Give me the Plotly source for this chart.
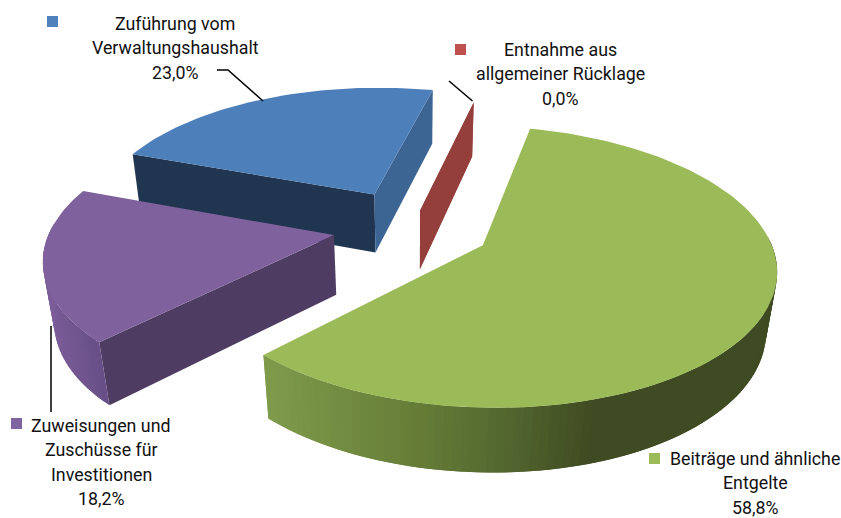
import math
import plotly.graph_objects as go

# Data
categories = ["Beiträge und ähnliche Entgelte", "Zuweisungen und Zuschüsse für Investitionen",
              "Zuführung vom Verwaltungshaushalt", "Entnahme aus allgemeiner Rücklage"]
values = [58.8, 18.2, 23.0, 0.0]
labels = [["Beiträge und ähnliche", "Entgelte", "58,8%"],
          ["Zuweisungen und", "Zuschüsse für", "Investitionen", "18,2%"],
          ["Zuführung vom", "Verwaltungshaushalt", "23,0%"],
          ["Entnahme aus", "allgemeiner Rücklage", "0,0%"]]
explode = [0.28, 0.28, 0.29, 0.13]
key_colors = ["#9BBB59", "#8064A2", "#4F81BD", "#C0504D"]
top_colors = ["#9BBB59", "#7F619D", "#4D7FBA", "#953F3D"]
first_wall = [None, "#4E3C62", "#1F3550", "#953F3D"]   # wall along the start radius
last_wall = [None, None, "#3D6594", "#953F3D"]  # wall along the end radius
outer_stops = [
    [(263, "#7F9C4C"), (420, "#667D37"), (500, "#556A30"), (600, "#3F4B22"), (800, "#3F4B22")],
    [(40, "#7D5F9B"), (105, "#664D85")],
    [(0, "#1F3550"), (800, "#1F3550")],
    [(0, "#953F3D"), (800, "#953F3D")],
]
label_first_line = [(755, 458), (101, 425), (175, 23), (560, 49)]
LINE_STEP = 24.5
key_pos = [(654.5, 458.5), (16.5, 423.5), (52.5, 21.5), (460.5, 49.5)]
leaders = [[(217, 70), (228, 70), (263, 101)], [(449, 81), (472.5, 101)], [(51, 326), (51, 412)]]
draw_order = [2, 3, 1, 0]

# Projection
START = 13.0
CX, CY, A, B, K, D, M = 412, 227, 283, 132, 0.151, 61, 0.03


def project(x, y, h=0):
    w = 1 - K * y + M * h
    return CX + A * x / w, CY + (B * y + D * h) / w


def hex2rgb(c):
    return tuple(int(c[i:i + 2], 16) for i in (1, 3, 5))


def shade(stops, x):
    if x <= stops[0][0]:
        return stops[0][1]
    for (x0, c0), (x1, c1) in zip(stops, stops[1:]):
        if x <= x1:
            t = (x - x0) / (x1 - x0)
            a, b = hex2rgb(c0), hex2rgb(c1)
            return "rgb(%d,%d,%d)" % tuple(round(p + t * (q - p)) for p, q in zip(a, b))
    return stops[-1][1]


def poly(fig, pts, color):
    xs = [p[0] for p in pts] + [pts[0][0]]
    ys = [p[1] for p in pts] + [pts[0][1]]
    fig.add_trace(go.Scatter(x=xs, y=ys, mode="lines", fill="toself", fillcolor=color,
                             line=dict(color=color, width=0), hoverinfo="skip", showlegend=False))


fig = go.Figure()
total = sum(values)
starts, a = [], START
for v in values:
    starts.append(a)
    a += v / total * 360

for i in draw_order:
    a0 = math.radians(starts[i])
    a1 = a0 + math.radians(values[i] / total * 360)
    mid = (a0 + a1) / 2
    ox, oy = explode[i] * math.sin(mid), -explode[i] * math.cos(mid)
    n = max(2, int(abs(a1 - a0) / math.radians(1.5)))
    angs = [a0 + (a1 - a0) * j / n for j in range(n + 1)]
    rim = [(ox + math.sin(t), oy - math.cos(t)) for t in angs]

    # radial walls
    for wall, (rx, ry) in ((first_wall[i], rim[0]), (last_wall[i], rim[-1])):
        if wall:
            poly(fig, [project(ox, oy), project(rx, ry), project(rx, ry, 1), project(ox, oy, 1)], wall)
    # outer wall, only the part facing the viewer; segments overlap so no seams show
    for j in range(n):
        tm = (angs[j] + angs[j + 1]) / 2
        if -math.cos(tm) > -0.05 and values[i] > 0:
            p, q = rim[j], rim[min(j + 2, n)]
            sx = project(*rim[j])[0]
            poly(fig, [project(*p), project(*q), project(*q, 1), project(*p, 1)], shade(outer_stops[i], sx))
    # top face
    if values[i] > 0:
        poly(fig, [project(ox, oy)] + [project(*p) for p in rim], top_colors[i])

shapes = []
for pts in leaders:
    path = "M " + " L ".join(f"{x},{y}" for x, y in pts)
    shapes.append(dict(type="path", path=path, xref="x", yref="y", line=dict(color="#000000", width=1.5)))
for (x, y), c in zip(key_pos, key_colors):
    shapes.append(dict(type="rect", xref="x", yref="y", x0=x - 5.5, x1=x + 5.5, y0=y - 5.5, y1=y + 5.5,
                       fillcolor=c, line=dict(width=0)))

annotations = []
for (x, y), lines in zip(label_first_line, labels):
    for j, t in enumerate(lines):
        annotations.append(dict(x=x, y=y + j * LINE_STEP, xref="x", yref="y", text=t, showarrow=False,
                                xanchor="center", yanchor="middle", align="center", borderpad=0,
                                font=dict(family="Roboto", size=17.8, color="#111111")))

fig.update_layout(width=841, height=518, margin=dict(l=0, r=0, t=0, b=0), showlegend=False,
                  paper_bgcolor="white", plot_bgcolor="white", shapes=shapes, annotations=annotations,
                  xaxis=dict(range=[0, 841], visible=False, fixedrange=True),
                  yaxis=dict(range=[518, 0], visible=False, fixedrange=True))
fig.write_html("out.html", config={"displayModeBar": False},
               post_script="document.body.style.margin='0';document.documentElement.style.overflow='hidden';")
